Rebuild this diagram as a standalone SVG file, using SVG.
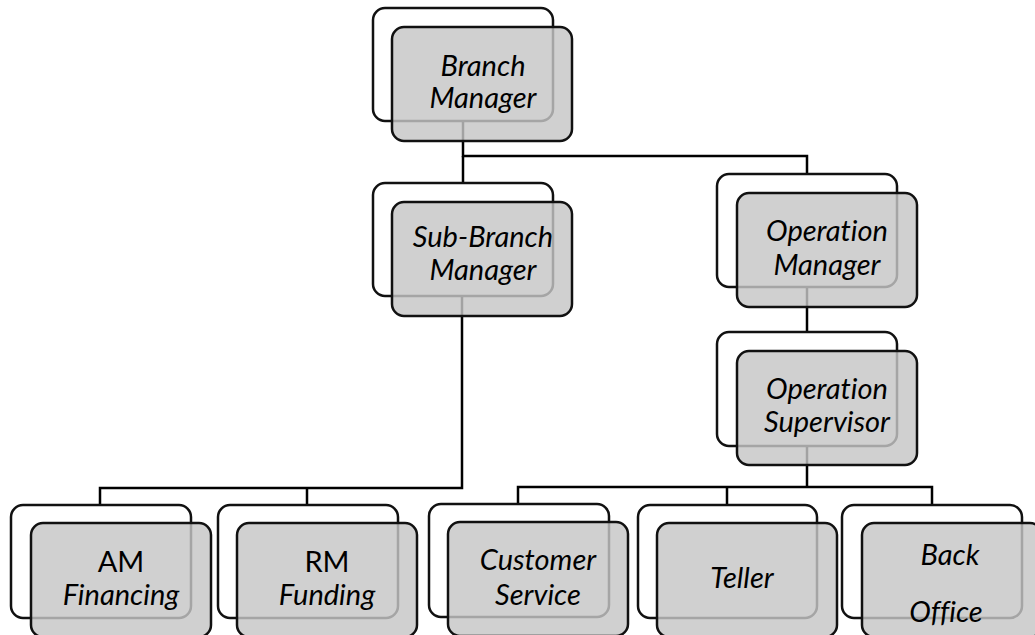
<svg xmlns="http://www.w3.org/2000/svg" width="1035" height="635" viewBox="0 0 1035 635">
<style>
.bk{fill:#ffffff;stroke:#111;stroke-width:2.5}
.fr{fill:#c6c6c6;fill-opacity:0.82;stroke:#111;stroke-width:2.5}
.ln{fill:none;stroke:#000;stroke-width:2.5}
text{font-family:Lato,"Open Sans","Liberation Sans",sans-serif;font-size:29px;fill:#000;text-anchor:middle;font-variant-ligatures:none;font-feature-settings:"liga" 0,"dlig" 0}
.i{font-style:italic}
</style>
<rect width="1035" height="635" fill="#fff"/>
<g id="connectors">
<path class="ln" d="M463 120V156H807V174"/>
<path class="ln" d="M463 156V183"/>
<path class="ln" d="M807 287V332"/>
<path class="ln" d="M462 296V488H100V505M307 488V505"/>
<path class="ln" d="M807 446V487M518 505V487H932V505M727 487V505"/>
</g>
<g id="branch-manager">
<rect class="bk" x="373" y="8" width="180" height="113" rx="12"/>
<rect class="fr" x="392" y="27" width="180" height="114" rx="12"/>
<text class="i" x="483" y="76">Branch</text>
<text class="i" x="483" y="108">Manager</text>
</g>
<g id="sub-branch-manager">
<rect class="bk" x="373" y="183" width="180" height="113" rx="12"/>
<rect class="fr" x="392" y="202" width="180" height="114" rx="12"/>
<text class="i" x="483" y="247">Sub-Branch</text>
<text class="i" x="483" y="280">Manager</text>
</g>
<g id="operation-manager">
<rect class="bk" x="717" y="174" width="180" height="113" rx="12"/>
<rect class="fr" x="737" y="193" width="180" height="114" rx="12"/>
<text class="i" x="827" y="241">Operation</text>
<text class="i" x="827" y="275">Manager</text>
</g>
<g id="operation-supervisor">
<rect class="bk" x="717" y="332" width="180" height="114" rx="12"/>
<rect class="fr" x="737" y="351" width="180" height="114" rx="12"/>
<text class="i" x="827" y="399">Operation</text>
<text class="i" x="827" y="432">Supervisor</text>
</g>
<g id="am-financing">
<rect class="bk" x="11" y="505" width="180" height="113" rx="12"/>
<rect class="fr" x="31" y="523" width="180" height="114" rx="12"/>
<text x="121" y="572">AM</text>
<text class="i" x="121" y="605">Financing</text>
</g>
<g id="rm-funding">
<rect class="bk" x="218" y="505" width="180" height="113" rx="12"/>
<rect class="fr" x="237" y="523" width="180" height="114" rx="12"/>
<text x="327" y="572">RM</text>
<text class="i" x="327" y="605">Funding</text>
</g>
<g id="customer-service">
<rect class="bk" x="429" y="504" width="180" height="113" rx="12"/>
<rect class="fr" x="448" y="522" width="180" height="114" rx="12"/>
<text class="i" x="538" y="570">Customer</text>
<text class="i" x="538" y="605">Service</text>
</g>
<g id="teller">
<rect class="bk" x="638" y="505" width="179" height="113" rx="12"/>
<rect class="fr" x="657" y="523" width="180" height="114" rx="12"/>
<text class="i" x="742" y="588">Teller</text>
</g>
<g id="back-office">
<rect class="bk" x="842" y="505" width="180" height="113" rx="12"/>
<rect class="fr" x="862" y="523" width="180" height="114" rx="12"/>
<text class="i" x="950" y="565">Back</text>
<text class="i" x="946" y="622">Office</text>
</g>
</svg>
